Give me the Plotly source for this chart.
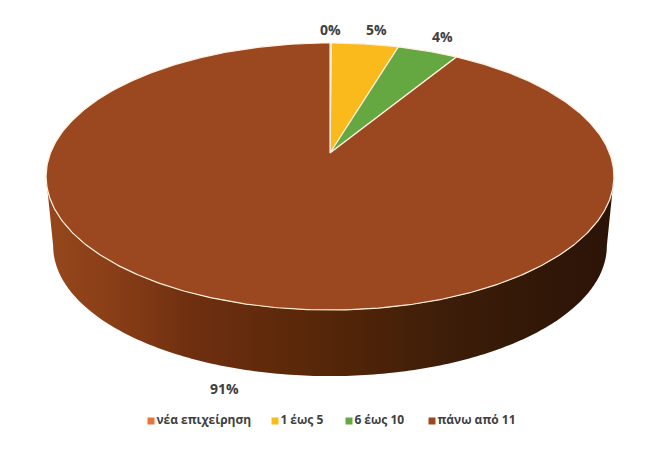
"""Tilted 3D style pie, drawn with filled scatter traces since plotly has no 3D pie."""
import numpy as np
import plotly.graph_objects as go

categories = ["νέα επιχείρηση", "1 έως 5", "6 έως 10", "πάνω από 11"]
shares = [0.1, 4.51, 4.1, 91.29]
slice_colors = ["#ED7D31", "#FBBA1B", "#65A842", "#9B4820"]
legend_colors = ["#E8743B", "#FBBA1B", "#65A842", "#9B4820"]

# where the percent labels sit, same order as categories
label_x = [330, 376, 442, 224]
label_y = [29, 29, 36, 388]

# legend row, swatch positions
legend_x = [151, 275, 349, 432]
LEGEND_Y = 421

# disc geometry in page pixels
CX, APEX_Y = 330, 153
A, B, K = 279.5, 129.4, 0.176
BOTTOM_SCALE, BOTTOM_APEX_Y = 0.975, 223


def project(theta, scale=1.0, apex_y=APEX_Y):
    # theta is clockwise from 12 o'clock, k gives the perspective
    w = 1 + K * np.cos(theta)
    return CX + scale * A * np.sin(theta) / w, apex_y - scale * B * np.cos(theta) / w


def _main():
    fig = go.Figure()

    # side wall, between the two extremes of the disc
    extreme = np.arccos(-K)
    t = np.linspace(extreme, 2 * np.pi - extreme, 200)
    x_top, y_top = project(t)
    x_bot, y_bot = project(t[::-1], BOTTOM_SCALE, BOTTOM_APEX_Y)
    fig.add_trace(go.Scatter(
        x=np.concatenate([x_top, x_bot]),
        y=np.concatenate([y_top, y_bot]),
        mode="none", fill="toself", showlegend=False, hoverinfo="skip",
        fillgradient=dict(
            type="horizontal",
            colorscale=[[0, "#95461C"], [0.1, "#8C4018"], [0.26, "#6E2F10"], [0.5, "#552608"],
                        [0.73, "#3A1C08"], [1, "#2B1307"]],
        ),
    ))

    # top face
    edges = np.radians(np.cumsum([0] + shares) * 3.6)
    for start, stop, color in zip(edges[:-1], edges[1:], slice_colors):
        arc = np.linspace(start, stop, max(2, int(np.degrees(stop - start)) * 2))
        x_arc, y_arc = project(arc)
        fig.add_trace(go.Scatter(
            x=np.concatenate([[CX], x_arc, [CX]]),
            y=np.concatenate([[APEX_Y], y_arc, [APEX_Y]]),
            mode="lines", fill="toself", fillcolor=color,
            line=dict(color="#FFF0DC", width=1.2),
            showlegend=False, hoverinfo="skip",
        ))

    # legend row, the native one spaces its swatches too far from the text
    for name, color, x in zip(categories, legend_colors, legend_x):
        fig.add_trace(go.Scatter(
            x=[x], y=[LEGEND_Y], mode="markers+text", name=name, text=[name],
            textposition="middle right",
            textfont=dict(family="Open Sans", size=12, color="#404040", weight="bold"),
            marker=dict(symbol="square", size=7, color=color),
            showlegend=False, hoverinfo="skip",
        ))

    for share, x, y in zip(shares, label_x, label_y):
        fig.add_annotation(
            x=x, y=y, text=f"<b>{share:.0f}%</b>", showarrow=False,
            font=dict(family="Open Sans", size=14, color="#404040"),
        )

    fig.update_layout(
        width=667, height=462,
        margin=dict(l=0, r=0, t=0, b=0),
        paper_bgcolor="white", plot_bgcolor="white",
        xaxis=dict(range=[0, 667], visible=False, fixedrange=True),
        yaxis=dict(range=[462, 0], visible=False, fixedrange=True),
    )
    # the page margin would push the whole chart 8px off
    fig.write_html("out.html", config={"displayModeBar": False},
                   post_script="document.body.style.margin='0';")


if __name__ == "__main__":
    _main()
